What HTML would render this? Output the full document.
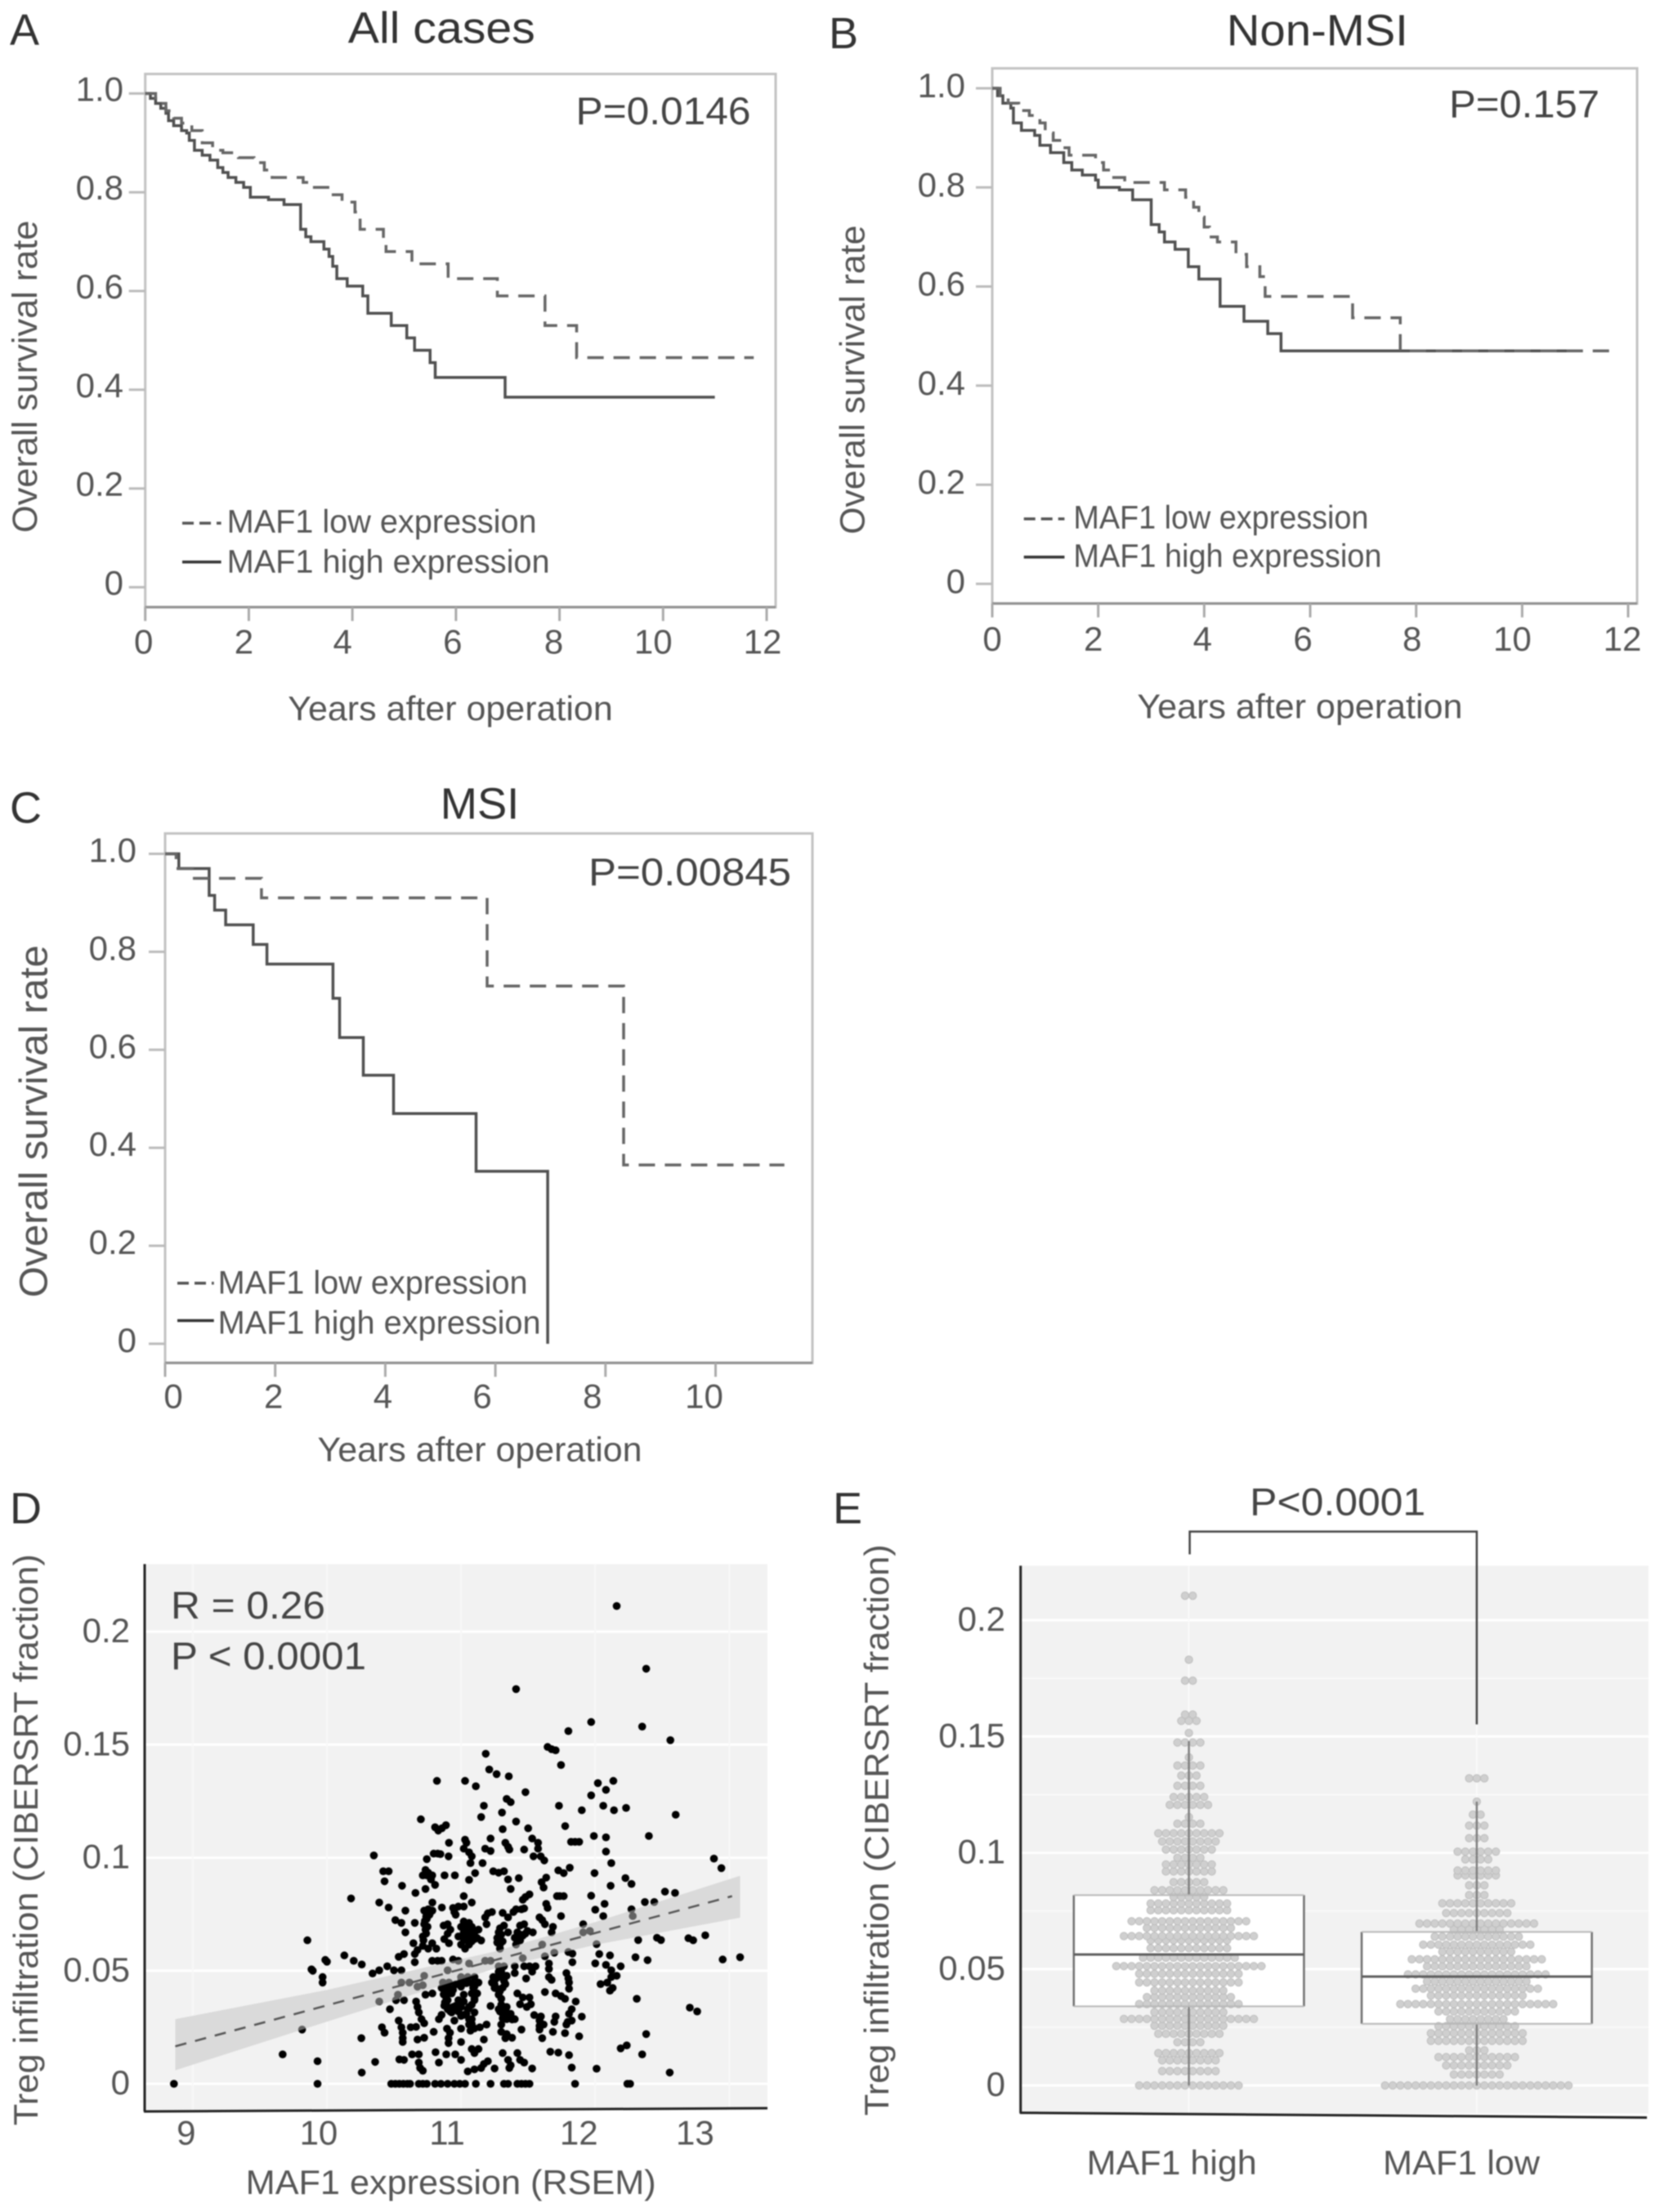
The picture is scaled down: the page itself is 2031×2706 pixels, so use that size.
<!DOCTYPE html>
<html lang="en">
<head>
<meta charset="utf-8">
<title>MAF1 survival and Treg infiltration figure</title>
<style>
html,body{margin:0;padding:0;background:#fff;}
svg{display:block;font-family:"Liberation Sans",sans-serif;filter:blur(.7px);}
</style>
</head>
<body>
<svg id="figure" xmlns="http://www.w3.org/2000/svg" width="2031" height="2706" viewBox="0 0 2031 2706">
<rect x="0" y="0" width="2031" height="2706" fill="#ffffff"/>
</svg>
<script>
/* ---------- Panel A: [years, survival] ---------- */
const panelALow = [[0,1],[.2,.98],[.4,.965],[.55,.95],[.7,.94],[.9,.925],[1.1,.9],[1.3,.885],[1.5,.88],[1.8,.87],[2.1,.86],[2.3,.845],[2.45,.83],[3.05,.82],[3.2,.81],[3.6,.795],[3.8,.78],[4.05,.76],[4.15,.725],[4.6,.7],[4.65,.68],[5.15,.655],[5.85,.625],[6.8,.59],[7.72,.53],[8.33,.465],[11.75,.465]];
const panelAHigh = [[0,1],[.1,.99],[.2,.98],[.3,.97],[.4,.96],[.45,.945],[.55,.935],[.7,.925],[.8,.92],[.85,.905],[.95,.885],[1.1,.875],[1.25,.865],[1.4,.85],[1.5,.84],[1.6,.83],[1.75,.82],[1.9,.81],[2.03,.79],[2.38,.785],[2.68,.775],[3.0,.725],[3.1,.71],[3.2,.7],[3.45,.685],[3.55,.67],[3.62,.65],[3.7,.625],[3.9,.61],[4.2,.59],[4.3,.555],[4.75,.53],[5.05,.505],[5.2,.48],[5.5,.455],[5.6,.425],[6.95,.385],[11.0,.385]];
/* ---------- Panel B ---------- */
const panelBLow = [[0,1],[.15,.985],[.3,.97],[.5,.955],[.7,.945],[.9,.93],[1.0,.91],[1.15,.895],[1.3,.88],[1.45,.865],[1.95,.85],[2.1,.835],[2.25,.82],[2.5,.81],[3.25,.795],[3.65,.78],[3.8,.76],[3.9,.74],[4.0,.72],[4.1,.7],[4.25,.69],[4.6,.665],[4.8,.64],[5.05,.62],[5.15,.58],[6.8,.537],[7.7,.47],[11.75,.47]];
const panelBHigh = [[0,1],[.1,.985],[.2,.97],[.35,.96],[.4,.93],[.55,.915],[.8,.905],[.9,.885],[1.1,.87],[1.35,.85],[1.5,.835],[1.7,.825],[1.95,.815],[2.0,.8],[2.4,.795],[2.65,.775],[3.0,.725],[3.15,.71],[3.25,.69],[3.45,.675],[3.7,.64],[3.9,.615],[4.3,.56],[4.75,.53],[5.2,.505],[5.45,.47],[11.0,.47]];
/* ---------- Panel C ---------- */
const panelCLow = [[0,1],[.2,.97],[.5,.95],[1.75,.91],[5.85,.73],[8.33,.365],[11.25,.365]];
const panelCHigh = [[0,1],[.25,.97],[.8,.915],[.9,.885],[1.1,.855],[1.6,.815],[1.85,.775],[3.05,.705],[3.17,.625],[3.6,.548],[4.15,.47],[5.65,.352],[6.95,0]];
const survivalYTicks = [0,.2,.4,.6,.8,1];
const survivalYLabels = ["0","0.2","0.4","0.6","0.8","1.0"];
const survivalXTicks = [0,2,4,6,8,10,12];
const survivalXTicksC = [0,2,4,6,8,10];

/* ---------- Panel D: [MAF1 expression, Treg fraction] ---------- */
const scatterPoints = [
[8.86,0],[9.93,0],[10.48,0],[10.51,0],[10.54,0],[10.57,0],[10.6,0],[10.62,0],[10.685,0],[10.715,0],[10.745,0],[10.806,0],[10.85,0],[10.9,0],[10.95,0],[10.99,0],[11.03,0],[11.11,0],[11.22,0],[11.32,0],[11.35,0],[11.42,0],[11.45,0],[11.48,0],[11.51,0],[11.85,0],[12.24,0],[12.26,0],
[12.16,.2113],[12.38,.1836],[11.41,.1746],[11.97,.16],[12.35,.158],[11.8,.156],[12.56,.152],[11.645,.149],[11.675,.148],[11.705,.1475],[11.184,.146],[11.745,.141],[11.21,.139],[11.265,.137],[11.356,.136],
[10.82,.134],[11.03,.134],[11.11,.1316],[12.02,.133],[12.135,.134],[12.08,.13],[11.48,.129],[11.97,.1276],[11.34,.126],[11.37,.1246],[11.17,.123],[11.73,.123],[12.06,.123],[11.9,.121],[12.14,.121],[12.23,.122],[11.305,.12],[12.6,.119],[11.15,.118],[10.7,.117],[11.41,.116],
[11.31,.1126],[11.5,.113],[11.776,.114],[10.806,.1135],[10.83,.112],[10.857,.113],[10.887,.1144],[11.99,.1096],[12.08,.109],[12.4,.1096],[11.22,.1085],[11.53,.1085],[11.03,.108],[11.82,.107],[11.85,.107],[11.88,.107],
[11.04,.1066],[10.91,.1066],[11.574,.1066],[11.33,.1066],[11.35,.1048],[11.18,.104],[11.47,.1036],[11.02,.104],[11.22,.103],[11.574,.104],[11.36,.1036],[11.06,.1024],[12.08,.1027],
[10.35,.101],[10.796,.1018],[10.826,.1018],[10.846,.1016],[10.907,.1006],[10.745,.0994],[11.08,.1006],[11.54,.1006],[11.594,.1006],[11.62,.0988],[11.07,.0976],[11.16,.0976],[12.12,.0976],
[11.81,.0956],[11.725,.0944],[11.765,.0932],[10.735,.0946],[10.755,.0934],[10.42,.094],[10.46,.094],[11.24,.094],[11.28,.0934],[11.32,.094],[11.995,.0932],[10.715,.0922],[10.745,.0922],[10.785,.0922],[10.877,.0922],[10.954,.0922],[11.105,.0932],
[10.776,.0904],[11.35,.0904],[11.43,.091],[11.635,.0912],[12.225,.091],[10.43,.0896],[11.06,.0902],[11.6,.0892],[10.56,.0876],[10.806,.088],[11.37,.0862],[12.115,.0876],[12.27,.0884],[11.615,.0868],[10.735,.0862],
[10.66,.0844],[11.02,.083],[11.97,.0832],[12.52,.085],[12.595,.0844],[11.48,.0826],[11.51,.0838],[11.715,.083],[11.735,.083],[11.765,.083],[10.18,.082],[11.46,.0814],
[11.08,.0802],[10.786,.0802],[12.07,.0796],[12.37,.0804],[12.44,.0804],[10.39,.0802],[11.635,.0796],[10.46,.078],[10.857,.078],[10.755,.0772],[10.725,.0766],[10.786,.0766],[10.94,.0778],[10.98,.0784],[11.02,.0784],[11.41,.0772],[11.45,.0772],[11.47,.0776],[11.645,.0778],[12.0,.077],[12.27,.0772],[10.95,.076],
[10.585,.0766],[11.2,.0754],[11.31,.0756],[11.39,.076],[11.23,.076],[10.96,.0748],[10.765,.0748],[11.745,.0742],[12.06,.0742],[12.28,.0742],[11.585,.0736],
[11.18,.0736],[11.35,.0736],[10.51,.0724],[10.555,.0712],[10.745,.073],[10.725,.0706],[11.605,.0724],[11.19,.0706],[11.02,.0718],[11.06,.0712],[10.9,.0706],[10.87,.07],
[10.655,.0712],[10.735,.0682],[10.92,.0682],[11.0,.0694],[11.04,.07],[11.08,.0694],[11.13,.0682],[11.29,.0688],[11.32,.07],[11.44,.07],[11.47,.0706],[11.685,.0694],[11.625,.0706],[11.91,.0706],
[10.585,.067],[11.28,.067],[11.35,.067],[11.42,.067],[11.495,.0676],[11.535,.067],[11.02,.067],[11.1,.067],[11.06,.0658],[10.9,.0664],[11.675,.067],[11.91,.067],[11.96,.0676],
[10.715,.0652],[10.98,.0652],[11.02,.064],[11.1,.064],[11.15,.0634],[11.29,.064],[11.4,.0646],[11.44,.0634],[12.32,.0636],[12.46,.0646],[12.49,.0636],[12.695,.0644],[10.875,.064],[9.855,.0635],[12.73,.0635],[12.82,.0657],
[10.645,.0622],[10.715,.061],[10.785,.0622],[10.91,.0622],[11.0,.0616],[11.06,.0616],[11.29,.0616],[12.01,.0618],[11.41,.0616],[11.605,.0616],
[10.675,.0592],[10.755,.0598],[10.816,.0598],[11.03,.0598],[11.29,.0598],[11.8,.0583],[11.83,.0576],[11.695,.058],[11.625,.0564],[12.03,.0574],[12.11,.0568],[12.3,.056],[11.46,.0556],[10.535,.0562],[10.575,.0574],[10.655,.0574],
[9.988,.0548],[10.2,.0544],[10.13,.0568],[10.26,.0528],[12.39,.0547],[11.83,.0538],[10.655,.0538],[10.785,.0544],[10.825,.0544],[10.855,.0544],[10.94,.055],[10.98,.0544],[11.06,.0532],[11.18,.0544],[11.22,.0544],
[10.45,.052],[12.0,.0533],[12.08,.0526],[12.19,.052],[11.655,.0532],[11.655,.0508],[11.28,.052],[11.32,.052],[11.4,.052],[11.47,.052],[11.51,.052],[11.555,.052],[10.0,.054],[13.08,.056],[12.95,.055],
[9.885,.0506],[10.39,.0502],[10.34,.0488],[10.5,.0502],[10.555,.0502],[10.9,.0502],[12.12,.0502],[11.53,.0496],[11.3,.0496],[11.4,.049],[11.785,.049],[9.895,.05],
[9.968,.0472],[9.968,.0448],[10.725,.0478],[11.0,.0472],[11.05,.0472],[11.1,.0472],[11.24,.0472],[11.3,.0472],[11.34,.0478],[11.485,.0466],[11.655,.0472],[11.8,.0466],[12.12,.0472],[12.16,.0478],
[10.865,.0448],[10.91,.0448],[11.13,.0448],[11.23,.0448],[11.33,.0441],[12.09,.0448],[12.04,.0441],[11.675,.046],[11.805,.0448],[10.555,.0448],[10.615,.0448],
[10.675,.043],[10.715,.0436],[10.855,.0424],[10.91,.0424],[11.0,.043],[11.09,.0424],[11.25,.0424],[12.11,.0412],[12.13,.0424],[11.805,.0421],
[10.735,.0394],[10.786,.04],[10.875,.0394],[10.93,.04],[11.02,.0394],[11.08,.04],[11.28,.0394],[11.705,.04],[11.625,.0406],[11.42,.04],[11.745,.0388],[10.53,.0394],
[10.515,.037],[10.575,.037],[10.665,.0364],[10.9,.037],[10.98,.037],[11.02,.0364],[11.1,.0376],[11.3,.0376],[11.46,.0382],[11.51,.0382],[11.775,.0376],[11.855,.0364],[10.39,.0364],[12.31,.0376],
[10.675,.034],[10.875,.0346],[10.94,.034],[11.0,.034],[11.06,.034],[11.22,.0344],[11.28,.033],[11.34,.034],[11.44,.0352],[11.49,.034],[11.52,.0352],[10.47,.033],[11.825,.033],[12.705,.0337],[12.76,.032],
[10.685,.0316],[10.855,.0305],[10.93,.0316],[11.04,.031],[11.1,.0316],[11.31,.031],[11.37,.031],[11.805,.031],[11.705,.0298],[11.545,.0304],[11.595,.0298],[11.9,.0297],
[10.705,.0286],[10.835,.0286],[10.95,.028],[11.08,.0286],[11.34,.0286],[11.4,.0286],[10.535,.028],[11.585,.028],[11.695,.0274],[11.795,.0274],[11.825,.028],
[10.41,.025],[10.555,.025],[10.625,.025],[10.725,.0268],[10.665,.0252],[10.895,.0244],[11.0,.0244],[11.06,.0262],[11.14,.025],[11.19,.0262],[11.3,.0262],[11.585,.0256],[11.615,.0262],[9.815,.024],[11.45,.024],[11.785,.0262],
[10.43,.0226],[10.565,.0226],[10.796,.023],[10.917,.0226],[11.3,.023],[11.34,.022],[11.585,.024],[11.685,.023],[11.775,.0224],[12.38,.022],
[10.257,.0202],[10.565,.0202],[10.675,.0196],[10.725,.0204],[10.907,.0202],[11.17,.0196],[11.33,.0202],[11.38,.0204],[11.605,.0202],[11.88,.021],
[10.565,.0185],[10.907,.018],[11.0,.0185],[12.235,.017],[12.19,.0157],
[11.08,.0154],[11.13,.0154],[11.1,.0136],[11.665,.0142],[11.725,.0138],[11.31,.0136],[11.42,.0136],[10.635,.013],[10.685,.013],[10.81,.014],[10.89,.013],[10.957,.013],[11.805,.0127],[12.35,.013],[9.67,.013],
[10.54,.0108],[10.575,.0106],[9.93,.01],[10.36,.0097],[10.835,.0094],[11.0,.0106],[11.35,.0106],[11.44,.0106],[11.2,.01],[11.47,.0094],[10.685,.0094],[11.17,.0088],
[10.695,.007],[10.715,.0058],[11.05,.0055],[11.1,.0064],[11.15,.007],[11.25,.0068],[11.36,.007],[11.53,.0068],[11.825,.0072],[12.01,.0067],[10.26,.005],[12.555,.005],[11.37,.0082],
[11.03,.0685],[11.05,.0675],[11.07,.0665],[11.09,.0655],[11.05,.0655],[11.08,.0675],[11.1,.0655],[11.12,.0645],[11.03,.0665],[11.06,.0635],[11.04,.0635],[11.08,.063],
[10.87,.0425],[10.89,.041],[10.87,.0395],[10.89,.038],[10.88,.036],[10.89,.035],[10.9,.033],[10.92,.032],[10.96,.0345],[10.98,.032],[11.0,.03],[11.02,.0305],[11.05,.033],[11.08,.035],[11.1,.037],[11.12,.04],[11.1,.043],[11.08,.0445],[11.04,.0445],[11.0,.0455],[10.96,.044],[10.94,.0415],[11.06,.0285],[11.08,.0265],[11.1,.0245],[11.07,.0235],
[11.26,.0465],[11.25,.044],[11.27,.042],[11.29,.041],[11.31,.0425],[11.32,.0455],[11.3,.048],[11.28,.0495],[11.3,.035],[11.32,.033],[11.34,.0315],[11.36,.0295],[11.38,.0285],[11.29,.032],[11.31,.029],
[10.76,.0765],[10.74,.074],[10.73,.072],[10.75,.0695],[10.74,.0665],[10.72,.0635],[11.3,.066],[11.27,.0645],[11.31,.063],[11.27,.0625],[11.42,.0655],[11.44,.066],[11.46,.0655],[11.48,.0665],
[12.885,.0996],[12.94,.0954]
];
const scatterXTicks = [9,10,11,12,13];
const scatterYTicks = [0,.05,.1,.15,.2];
const scatterYLabels = ["0","0.05","0.1","0.15","0.2"];
const regressionLine = [[8.87,.0166],[13.02,.083]];
const bandExpression = [8.87,10,11.25,12,13.08];
const bandUpper = [.0286,.0415,.0585,.0715,.092];
const bandLower = [.006,.0275,.0509,.0615,.0735];

/* ---------- Panel E: swarm rows [Treg level, dot count] ---------- */
const highSwarmRows = [[0,14],[.0062,8],[.0108,8],[.0139,9],[.0186,4],[.0222,9],[.0257,10],[.0286,18],[.0315,10],[.035,14],[.038,12],[.0408,10],[.0443,14],[.048,14],[.0513,20],[.0549,13],[.059,11],[.0624,11],[.0642,18],[.0677,12],[.0706,16],[.0753,11],[.0782,11],[.081,5],[.0839,10],[.0874,5],[.092,7],[.095,7],[.0979,4],[.1014,7],[.1049,8],[.1084,9],[.1125,4],[.1154,1],[.1206,6],[.124,5],[.1288,4],[.1332,3],[.1375,4],[.141,1],[.1474,4],[.1515,1],[.1567,3],[.1594,2],[.174,2],[.183,1],[.2105,2]];
const lowSwarmRows = [[0,25],[.0047,7],[.0086,9],[.0122,11],[.0151,3],[.0192,13],[.0224,13],[.0255,11],[.0285,8],[.0318,11],[.035,21],[.0386,13],[.0416,17],[.0447,14],[.0477,19],[.0512,14],[.0542,18],[.0575,10],[.0605,15],[.064,12],[.067,7],[.0696,16],[.0741,9],[.0783,10],[.0818,3],[.086,3],[.0903,6],[.0924,6],[.0972,4],[.1005,6],[.1063,3],[.1117,3],[.1164,2],[.122,1],[.132,3]];
const highBoxStats = [.034,.0563,.0818];
const lowBoxStats = [.0265,.0468,.066];
const highWhisker = [0,.148];
const lowWhisker = [0,.122];
const swarmMinorTicks = [.025,.075,.125,.175];

const SVGNS = "http://www.w3.org/2000/svg";
const root = document.getElementById("figure");

function node(parent, tag, attrs, name) {
  const el = document.createElementNS(SVGNS, tag);
  for (const k in attrs) el.setAttribute(k, attrs[k]);
  
  
  parent.appendChild(el);
  return el;
}
function label(parent, str, x, y, o, name) {
  const a = {x: x, y: y, "font-size": o.size, fill: o.fill || "#555555", "text-anchor": o.anchor || "middle"};
  if (o.width) { a.textLength = o.width; a.lengthAdjust = "spacingAndGlyphs"; }
  if (o.rot) a.transform = "rotate(" + o.rot + " " + x + " " + y + ")";
  const el = node(parent, "text", a, name);
  el.textContent = str;
  return el;
}
function stepPath(data, sx, sy) {
  let d = "M" + sx(data[0][0]).toFixed(1) + " " + sy(data[0][1]).toFixed(1);
  for (let i = 1; i < data.length; i++) {
    d += "L" + sx(data[i][0]).toFixed(1) + " " + sy(data[i-1][1]).toFixed(1);
    d += "L" + sx(data[i][0]).toFixed(1) + " " + sy(data[i][1]).toFixed(1);
  }
  return d;
}

function drawSurvival(p) {
  const g = node(root, "g", {}, "panel-" + p.id);
  const sx = t => p.x0 + (p.xEnd - p.x0) * t / p.xEndVal;
  const sy = s => p.y0 + (p.y1 - p.y0) * s;
  label(g, p.letter, p.letterX, p.letterY, {size: 54, anchor: "start", fill: "#333333"}, "panel-letter-" + p.id);
  label(g, p.title, p.titleX, p.titleY, {size: 54, width: p.titleW, fill: "#333333"}, "panel-title-" + p.id);
  node(g, "rect", {x: p.left, y: p.top, width: p.right - p.left, height: p.bottom - p.top, fill: "#ffffff", stroke: "#c2c2c2", "stroke-width": 3}, "plot-frame-" + p.id);
  node(g, "line", {x1: p.left, x2: p.right, y1: p.bottom, y2: p.bottom, stroke: "#909090", "stroke-width": 3}, "plot-frame-bottom-" + p.id);
  survivalYTicks.forEach((v, i) => {
    node(g, "line", {x1: p.left - 20, x2: p.left, y1: sy(v), y2: sy(v), stroke: "#bbbbbb", "stroke-width": 3}, "y-tick-" + p.id);
    label(g, survivalYLabels[i], p.yLabelX, sy(v) + p.yLabelDy, {size: 42, anchor: "end"}, "y-tick-label-" + p.id);
  });
  p.xTicks.forEach((v, i) => {
    node(g, "line", {x1: sx(v), x2: sx(v), y1: p.bottom, y2: p.bottom + 17, stroke: "#aaaaaa", "stroke-width": 3}, "x-tick-" + p.id);
    label(g, String(v), sx(v) + p.xNudge[i], p.xLabelY, {size: 42}, "x-tick-label-" + p.id);
  });
  label(g, "Years after operation", p.xTitleX, p.xTitleY, {size: 42, width: p.xTitleW}, "x-axis-title-" + p.id);
  label(g, "Overall survival rate", p.yTitleX, p.yTitleY, {size: p.yTitleSize, width: p.yTitleW, rot: -90}, "y-axis-title-" + p.id);
  label(g, p.pText, p.pX, p.pY, {size: 47, anchor: "start", width: p.pW, fill: "#444444"}, "p-value-" + p.id);
  node(g, "path", {d: stepPath(p.high, sx, sy), fill: "none", stroke: "#505050", "stroke-width": 3.5}, "curve-maf1-high-" + p.id);
  node(g, "path", {d: stepPath(p.low, sx, sy), fill: "none", stroke: "#666666", "stroke-width": 3.5, "stroke-dasharray": "20 12"}, "curve-maf1-low-" + p.id);
  node(g, "line", {x1: p.legX1, x2: p.legX2, y1: p.legY1, y2: p.legY1, stroke: "#555555", "stroke-width": 3.5, "stroke-dasharray": "14 7"}, "legend-swatch-low-" + p.id);
  label(g, "MAF1 low expression", p.legTextX, p.legBase1, {size: 40, anchor: "start", width: p.legW1}, "legend-label-low-" + p.id);
  node(g, "line", {x1: p.legX1, x2: p.legX2, y1: p.legY2, y2: p.legY2, stroke: "#333333", "stroke-width": 3.5}, "legend-swatch-high-" + p.id);
  label(g, "MAF1 high expression", p.legTextX, p.legBase2, {size: 40, anchor: "start", width: p.legW2}, "legend-label-high-" + p.id);
}

drawSurvival({id:"a",letter:"A",letterX:12,letterY:55,title:"All cases",titleX:540.3,titleY:52.7,titleW:229,
  left:177.7,right:949,top:90.5,bottom:742.7,x0:177.7,xEnd:938,xEndVal:12,y0:718.4,y1:114.4,
  xTicks:survivalXTicks,xNudge:[-2,-6,-12,-4,-7,-12,-5],xLabelY:799.3,yLabelX:151,yLabelDy:9,
  xTitleX:551,xTitleY:881,xTitleW:397.5,yTitleX:45,yTitleY:460.7,yTitleW:382,yTitleSize:43,
  pText:"P=0.0146",pX:704.5,pY:152.2,pW:214,low:panelALow,high:panelAHigh,
  legX1:223,legX2:270.6,legY1:640,legY2:687.5,legTextX:277.6,legBase1:651.7,legBase2:700.5,legW1:379,legW2:395});

drawSurvival({id:"b",letter:"B",letterX:1014,letterY:59,title:"Non-MSI",titleX:1611.8,titleY:55.7,titleW:222,
  left:1214,right:2003,top:83.6,bottom:738.3,x0:1214,xEnd:1992,xEndVal:12,y0:714.3,y1:108,
  xTicks:survivalXTicks,xNudge:[0,-6,-2,-9,-5,-12,-7],xLabelY:796,yLabelX:1181,yLabelDy:11,
  xTitleX:1590.4,xTitleY:878.5,xTitleW:398,yTitleX:1057.7,yTitleY:464.6,yTitleW:378,yTitleSize:43,
  pText:"P=0.157",pX:1773,pY:143.3,pW:184,low:panelBLow,high:panelBHigh,
  legX1:1252.7,legX2:1302.4,legY1:634.7,legY2:681.5,legTextX:1313.4,legBase1:646.6,legBase2:693.4,legW1:361,legW2:377});

drawSurvival({id:"c",letter:"C",letterX:12,letterY:1006.7,title:"MSI",titleX:587,titleY:1001.7,titleW:96.5,
  left:202,right:994,top:1019.6,bottom:1667.3,x0:202,xEnd:875.5,xEndVal:10,y0:1643.9,y1:1044.5,
  xTicks:survivalXTicksC,xNudge:[10,-2,-3,-16,-16,-14],xLabelY:1722.5,yLabelX:167,yLabelDy:10,
  xTitleX:587,xTitleY:1787.6,xTitleW:397,yTitleX:57.7,yTitleY:1371.8,yTitleW:431,yTitleSize:48,
  pText:"P=0.00845",pX:720,pY:1082.8,pW:248,low:panelCLow,high:panelCHigh,
  legX1:217,legX2:261.7,legY1:1569.8,legY2:1615.5,legTextX:266.6,legBase1:1582.7,legBase2:1631.4,legW1:379,legW2:395});

/* Panel D */
(function () {
  const g = node(root, "g", {}, "panel-d");
  const sx = v => 235.8 + (v - 9) * 164.15;
  const sy = v => 2549.2 - v * 2766;
  const labelNudge = [-8,-10,-17,-20,-42];
  label(g, "D", 12, 1863.7, {size: 54, anchor: "start", fill: "#333333"}, "panel-letter-d");
  node(g, "rect", {x: 177, y: 1913.4, width: 762, height: 668, fill: "#f2f2f2"}, "plot-background-d");
  scatterYTicks.forEach((v, i) => {
    node(g, "line", {x1: 177, x2: 939, y1: sy(v), y2: sy(v), stroke: "#ffffff", "stroke-width": 3}, "gridline-y-d");
    label(g, scatterYLabels[i], 159, sy(v) + 13, {size: 42, anchor: "end"}, "y-tick-label-d");
  });
  scatterXTicks.forEach((v, i) => {
    node(g, "line", {x1: sx(v), x2: sx(v), y1: 1913.4, y2: 2581, stroke: "#f8f8f8", "stroke-width": 2}, "gridline-x-d");
    label(g, String(v), sx(v) + labelNudge[i], 2623.4, {size: 42}, "x-tick-label-d");
  });
  let band = "";
  bandExpression.forEach((v, i) => { band += (i ? "L" : "M") + sx(v).toFixed(1) + " " + sy(bandUpper[i]).toFixed(1); });
  for (let i = bandExpression.length - 1; i >= 0; i--) band += "L" + sx(bandExpression[i]).toFixed(1) + " " + sy(bandLower[i]).toFixed(1);
  node(g, "path", {d: band + "Z", fill: "#dadada"}, "confidence-band");
  scatterPoints.forEach(pt => {
    node(g, "circle", {cx: sx(pt[0]).toFixed(1), cy: sy(pt[1]).toFixed(1), r: 4.8, fill: "#000000"}, "scatter-point");
  });
  node(g, "path", {d: band + "Z", fill: "#dadada", "fill-opacity": .45}, "confidence-band-overlay");
  node(g, "line", {x1: sx(regressionLine[0][0]), y1: sy(regressionLine[0][1]), x2: sx(regressionLine[1][0]), y2: sy(regressionLine[1][1]), stroke: "#555555", "stroke-width": 2.5, "stroke-dasharray": "14 11"}, "regression-line");
  node(g, "line", {x1: 177, y1: 1913.4, x2: 177, y2: 2583, stroke: "#222222", "stroke-width": 3}, "y-axis-line-d");
  node(g, "line", {x1: 176, y1: 2583, x2: 939, y2: 2579, stroke: "#222222", "stroke-width": 3}, "x-axis-line-d");
  label(g, "R = 0.26", 209, 1980, {size: 47, anchor: "start", width: 189, fill: "#444444"}, "correlation-r");
  label(g, "P < 0.0001", 209, 2041.8, {size: 47, anchor: "start", width: 239, fill: "#444444"}, "correlation-p");
  label(g, "MAF1 expression (RSEM)", 551.7, 2684, {size: 42, width: 502}, "x-axis-title-d");
  label(g, "Treg infiltration (CIBERSRT fraction)", 46, 2250.7, {size: 42, width: 699, rot: -90}, "y-axis-title-d");
})();

/* Panel E */
(function () {
  const g = node(root, "g", {}, "panel-e");
  const sy = v => 2551.2 - v * 2846;
  const highX = 1454.6, lowX = 1806.8, spacing = 9.35, half = 140.8;
  label(g, "E", 1019, 1863.7, {size: 54, anchor: "start", fill: "#333333"}, "panel-letter-e");
  node(g, "rect", {x: 1248.7, y: 1915.4, width: 768.3, height: 670, fill: "#f2f2f2"}, "plot-background-e");
  scatterYTicks.forEach((v, i) => {
    node(g, "line", {x1: 1248.7, x2: 2017, y1: sy(v), y2: sy(v), stroke: "#ffffff", "stroke-width": 3}, "gridline-y-e");
    label(g, scatterYLabels[i], 1230, sy(v) + 13, {size: 42, anchor: "end"}, "y-tick-label-e");
  });
  swarmMinorTicks.forEach(v => {
    node(g, "line", {x1: 1248.7, x2: 2017, y1: sy(v), y2: sy(v), stroke: "#f9f9f9", "stroke-width": 2}, "minor-gridline-e");
  });
  [highX, lowX].forEach(x => {
    node(g, "line", {x1: x, x2: x, y1: 1915.4, y2: 2585, stroke: "#fafafa", "stroke-width": 2}, "gridline-x-e");
  });
  function box(stats, x, name) {
    node(g, "rect", {x: x - half, y: sy(stats[2]), width: 2 * half, height: sy(stats[0]) - sy(stats[2]), fill: "#ffffff"}, "box-fill-" + name);
  }
  box(highBoxStats, highX, "high");
  box(lowBoxStats, lowX, "low");
  function swarm(rows, x, name) {
    rows.forEach(r => {
      for (let i = 0; i < r[1]; i++) {
        const cx = x + (i - (r[1] - 1) / 2) * spacing;
        node(g, "circle", {cx: cx.toFixed(1), cy: sy(r[0]).toFixed(1), r: 4.6, fill: "#cfcfcf", stroke: "#bdbdbd", "stroke-width": 1}, "swarm-dot-" + name);
      }
    });
  }
  swarm(highSwarmRows, highX, "high");
  swarm(lowSwarmRows, lowX, "low");
  function boxLines(stats, whisker, x, name) {
    const l = x - half, r = x + half;
    node(g, "line", {x1: x, x2: x, y1: sy(whisker[0]), y2: sy(stats[0]), stroke: "#808080", "stroke-width": 2.5}, "whisker-lower-" + name);
    node(g, "line", {x1: x, x2: x, y1: sy(stats[2]), y2: sy(whisker[1]), stroke: "#808080", "stroke-width": 2.5}, "whisker-upper-" + name);
    node(g, "line", {x1: l, x2: l, y1: sy(stats[0]), y2: sy(stats[2]), stroke: "#707070", "stroke-width": 2.5}, "box-left-" + name);
    node(g, "line", {x1: r, x2: r, y1: sy(stats[0]), y2: sy(stats[2]), stroke: "#707070", "stroke-width": 2.5}, "box-right-" + name);
    node(g, "line", {x1: l, x2: r, y1: sy(stats[1]), y2: sy(stats[1]), stroke: "#5f5f5f", "stroke-width": 3}, "box-median-" + name);
    node(g, "line", {x1: l, x2: r, y1: sy(stats[2]), y2: sy(stats[2]), stroke: "#b8b8b8", "stroke-width": 2}, "box-top-" + name);
    node(g, "line", {x1: l, x2: r, y1: sy(stats[0]), y2: sy(stats[0]), stroke: "#b8b8b8", "stroke-width": 2}, "box-bottom-" + name);
  }
  boxLines(highBoxStats, highWhisker, highX, "high");
  boxLines(lowBoxStats, lowWhisker, lowX, "low");
  node(g, "line", {x1: 1248.7, y1: 1915.4, x2: 1248.7, y2: 2585, stroke: "#222222", "stroke-width": 3}, "y-axis-line-e");
  node(g, "line", {x1: 1247.7, y1: 2584.6, x2: 2015, y2: 2590.5, stroke: "#222222", "stroke-width": 3}, "x-axis-line-e");
  node(g, "path", {d: "M1455.6 1901.5V1873.6H1806.8V2109.5", fill: "none", stroke: "#444444", "stroke-width": 2.5}, "significance-bracket");
  label(g, "P<0.0001", 1636.7, 1853.6, {size: 47, width: 215, fill: "#444444"}, "significance-label");
  label(g, "MAF1 high", 1433.7, 2660, {size: 42, width: 208}, "category-label-high");
  label(g, "MAF1 low", 1788, 2660, {size: 42, width: 192}, "category-label-low");
  label(g, "Treg infiltration (CIBERSRT fraction)", 1087, 2238.8, {size: 42, width: 699, rot: -90}, "y-axis-title-e");
})();
</script>
</body>
</html>
